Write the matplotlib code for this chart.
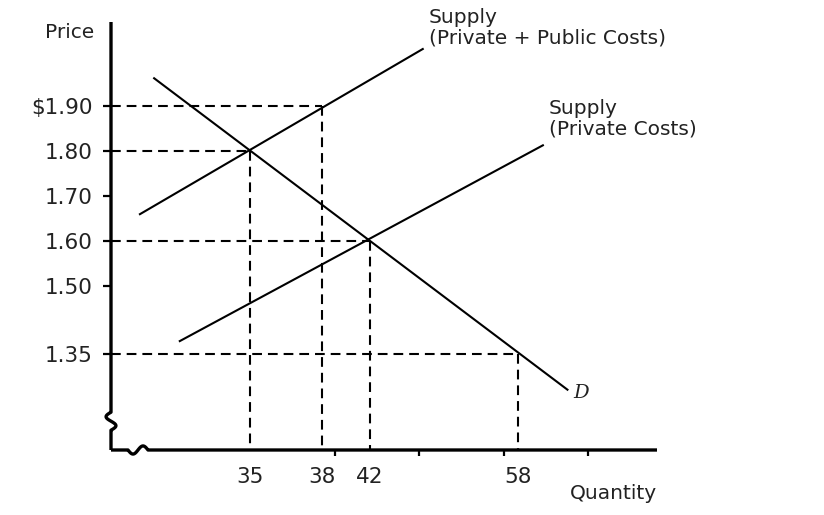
import numpy as np
import matplotlib
matplotlib.use("Agg")
import matplotlib.pyplot as plt

plt.rcParams['font.family'] = ['DejaVu Sans']
plt.rcParams['lines.scale_dashes'] = False

# ---- data (schematic positions along the quantity axis, prices on y) ----
price_ticks = [1.90, 1.80, 1.70, 1.60, 1.50, 1.35]
price_labels = ['\\$1.90', '1.80', '1.70', '1.60', '1.50', '1.35']

quantity_labels = ['35', '38', '42', '58']
quantity_pos = [25.5, 38.6, 47.4, 74.5]          # where each quantity sits on the axis
quantity_price = [1.80, 1.90, 1.60, 1.35]        # price of the marked point

axis_tick_pos = [25.5, 41.0, 56.4, 71.9, 87.4]   # unlabeled tick marks

demand_x = [7.9, 83.6]
demand_p = [1.962, 1.270]
supply_public_x = [5.3, 57.1]
supply_public_p = [1.660, 2.027]
supply_private_x = [12.6, 79.1]
supply_private_p = [1.378, 1.813]

x_min, x_max = 0, 100
p_min, p_max = 1.136, 2.087

fig = plt.figure(figsize=(8.24, 5.15), dpi=100)
ax = fig.add_axes([111/824, 1-450/515, (657-111)/824, (450-22)/515])
ax.set_xlim(x_min, x_max)
ax.set_ylim(p_min, p_max)
for s in ax.spines.values():
    s.set_visible(False)

# axes drawn with break squiggles
spine_lw = 2.4
# left axis
ys1 = 1.60 - (412-241)/450
ys2 = 1.60 - (430-241)/450
t = np.linspace(0, 1, 60)
sq_y = ys1 + (ys2 - ys1) * t
sq_x = -0.9 * np.sin(2*np.pi*t)
left_x = np.concatenate([[0, 0], sq_x, [0, 0]])
left_y = np.concatenate([[p_max, ys1], sq_y, [ys2, p_min]])
ax.plot(left_x, left_y, color='black', lw=spine_lw, clip_on=False,
        solid_capstyle='butt', solid_joinstyle='round')
# bottom axis
xs1, xs2 = (128-111)/5.46, (148-111)/5.46
sq_x2 = xs1 + (xs2 - xs1) * t
sq_y2 = p_min - 0.009 * np.sin(2*np.pi*t)
bot_x = np.concatenate([[0, xs1], sq_x2, [xs2, x_max]])
bot_y = np.concatenate([[p_min, p_min], sq_y2, [p_min, p_min]])
ax.plot(bot_x, bot_y, color='black', lw=spine_lw, clip_on=False,
        solid_capstyle='butt', solid_joinstyle='round')

# dashed guide lines
dash = (0, (7.0, 4.3))
for qx, qp in zip(quantity_pos, quantity_price):
    ax.plot([0, qx], [qp, qp], color='black', lw=1.5, linestyle=dash)
    ax.plot([qx, qx], [qp, p_min], color='black', lw=1.5, linestyle=dash)

# curves
for xs, ps in [(demand_x, demand_p), (supply_public_x, supply_public_p),
               (supply_private_x, supply_private_p)]:
    ax.plot(xs, ps, color='black', lw=1.5, clip_on=False)

# ticks
ax.set_yticks(price_ticks)
ax.set_yticklabels(price_labels, fontsize=15.5, color='#222222')
ax.tick_params(axis='y', direction='out', length=5.5, width=1.6, pad=7.5)
ax.set_xticks(quantity_pos)
ax.set_xticklabels(quantity_labels, fontsize=15.5, color='#222222')
ax.tick_params(axis='x', which='major', length=0, pad=12)
ax.set_xticks(axis_tick_pos, minor=True)
ax.tick_params(axis='x', which='minor', direction='out', length=4.5, width=1.6)

# labels
ax.text(-3.1, 2.064, 'Price', ha='right', va='center', fontsize=14.5,
        color='#222222', clip_on=False)
ax.text(84.1, 1.040, 'Quantity', ha='left', va='center', fontsize=14.5,
        color='#222222', clip_on=False)
ax.text(58.2, 2.075, 'Supply\n(Private + Public Costs)', ha='left', va='center',
        fontsize=14.5, linespacing=1.1, color='#222222', clip_on=False)
ax.text(80.2, 1.871, 'Supply\n(Private Costs)', ha='left', va='center',
        fontsize=14.5, linespacing=1.1, color='#222222', clip_on=False)
ax.text(84.6, 1.262, 'D', ha='left', va='center', fontsize=14,
        family='DejaVu Serif', style='italic', color='#222222', clip_on=False)

fig.savefig('out.png', dpi=100, facecolor='white')
